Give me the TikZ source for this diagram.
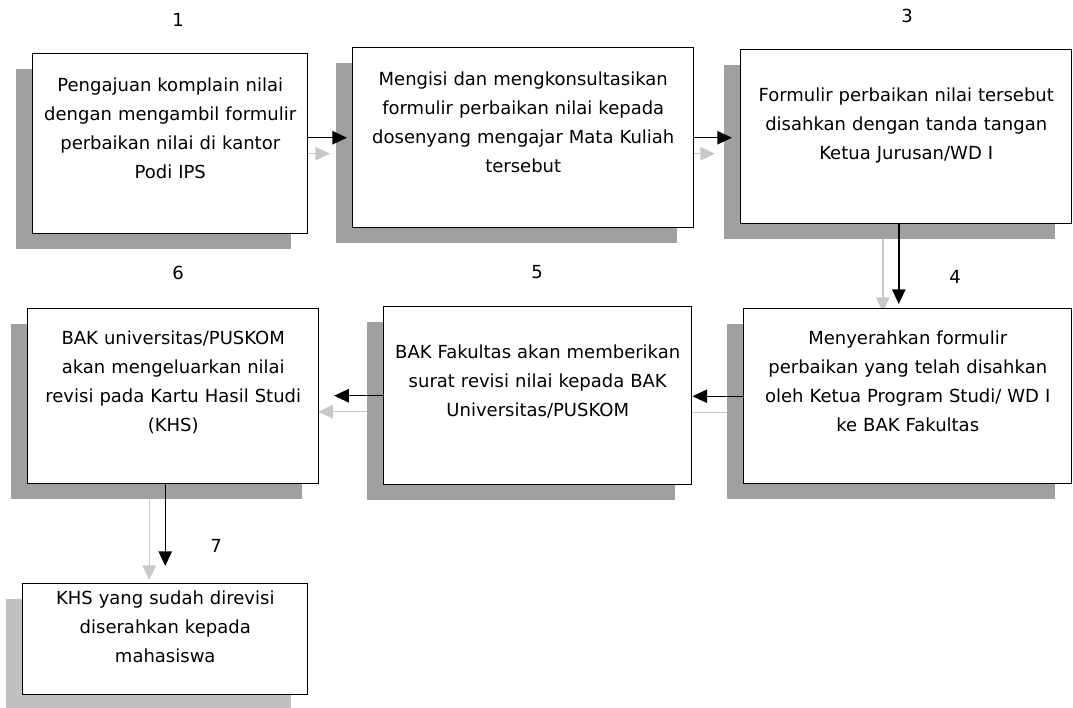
\documentclass[tikz,border=0pt]{standalone}
\usepackage{fontspec}
\setmainfont{DejaVu Sans}
\usetikzlibrary{arrows.meta,shadows,backgrounds}
\definecolor{shadegray}{HTML}{A0A0A0}
\definecolor{lightshade}{HTML}{C0C0C0}
\definecolor{ghostgray}{HTML}{C8C8C8}
\tikzset{
	stage/.style={draw=black,fill=white,line width=1.1pt,inner sep=0pt,align=center,anchor=north west,
		font=\fontsize{13.5}{21.75}\selectfont,
		drop shadow={shadow xshift=-12.4pt,shadow yshift=-11.6pt,fill=#1,opacity=1}},
	stage/.default=shadegray,
	flow/.style={-{Triangle[length=11pt,width=10pt]},line width=1.1pt},
	ghost/.style={flow,draw=ghostgray,fill=ghostgray},
	num/.style={font=\fontsize{13.5}{16}\selectfont}
}
\begin{document}
\begin{tikzpicture}[x=0.75pt,y=-0.75pt]
		\useasboundingbox (0,0) rectangle (1073,707);
		% baris atas
		\node[stage,text width=206.25pt,text height=28.5pt,text depth=106.5pt] (b1) at (32,53) {Pengajuan komplain nilai\\dengan mengambil formulir\\perbaikan nilai di kantor\\Podi IPS};
		\node[stage,text width=255.75pt,text height=28.5pt,text depth=106.5pt] (b2) at (352,47) {Mengisi dan mengkonsultasikan\\formulir perbaikan nilai kepada\\dosenyang mengajar Mata Kuliah\\tersebut};
		\node[stage,text width=248.25pt,text height=39pt,text depth=91.5pt] (b3) at (740,49) {Formulir perbaikan nilai tersebut\\disahkan dengan tanda tangan\\Ketua Jurusan/WD I};
		% baris tengah
		\node[stage,text width=246pt,text height=27pt,text depth=104.25pt] (b4) at (743,308) {Menyerahkan formulir\\perbaikan yang telah disahkan\\oleh Ketua Program Studi/ WD I\\ke BAK Fakultas};
		\node[stage,text width=231pt,text height=39pt,text depth=94.5pt] (b5) at (383,306) {BAK Fakultas akan memberikan\\surat revisi nilai kepada BAK\\Universitas/PUSKOM};
		\node[stage,text width=218.25pt,text height=27pt,text depth=104.25pt] (b6) at (27,308) {BAK universitas/PUSKOM\\akan mengeluarkan nilai\\revisi pada Kartu Hasil Studi\\(KHS)};
		% baris bawah
		\node[stage=lightshade,text width=213.75pt,text height=15.75pt,text depth=67.5pt] (b7) at (22,583) {KHS yang sudah direvisi\\diserahkan kepada\\mahasiswa};
		% nomor
		\node[num] (n1) at (178,20) {1};
		\node[num] (n3) at (907,16) {3};
		\node[num] (n4) at (955,277) {4};
		\node[num] (n5) at (537,272) {5};
		\node[num] (n6) at (178,273) {6};
		\node[num] (n7) at (216,546) {7};
		% panah
		\draw[flow,shorten >=3.75pt] (b1.east |- b2.west) -- (b2.west);
		\draw[flow,shorten >=6pt] (b2.east) -- (b2.east -| b3.west);
		\draw[flow,shorten >=3pt] ([xshift=-5.6pt]b3.south) -- ([xshift=-5.6pt]b3.south |- b4.north);
		\draw[flow] (b4.west) -- (b4.west -| b5.east);
		\draw[flow,shorten >=11pt] (b5.west) -- (b5.west -| b6.east);
		\draw[flow,shorten >=12.75pt] (b7.north |- b6.south) -- (b7.north);
		% bayangan panah
		\begin{scope}[on background layer]
			\draw[ghost,shorten >=3.75pt,transform canvas={shift={(-17,16)}}] (b1.east |- b2.west) -- (b2.west);
			\draw[ghost,shorten >=6pt,transform canvas={shift={(-17,16)}}] (b2.east) -- (b2.east -| b3.west);
			\draw[ghost,transform canvas={shift={(-16,4)}}] ([xshift=-5.6pt]b3.south) -- ([xshift=-5.6pt]b3.south |- b4.north);
			\draw[ghost,transform canvas={shift={(-16,16)}}] (b4.west) -- (b4.west -| b5.east);
			\draw[ghost,shorten >=11pt,transform canvas={shift={(-16,16)}}] (b5.west) -- (b5.west -| b6.east);
			\draw[ghost,shorten >=12.75pt,transform canvas={shift={(-16,14)}}] (b7.north |- b6.south) -- (b7.north);
		\end{scope}
\end{tikzpicture}
\end{document}
